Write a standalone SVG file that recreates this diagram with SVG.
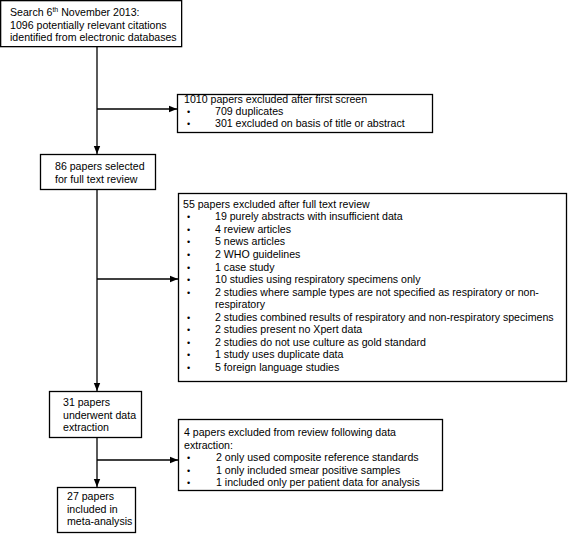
<svg xmlns="http://www.w3.org/2000/svg" width="568" height="534" viewBox="0 0 568 534">
<style>
.box{fill:#fff;stroke:#000;stroke-width:1.3}
.t{font-family:"Liberation Sans",Arial,sans-serif;font-size:10.6px;fill:#000}
.b{font-family:"Liberation Sans",Arial,sans-serif;font-size:9px;fill:#000}
.ln{fill:none;stroke:#000;stroke-width:1.3}
</style>
<defs>
<marker id="ah" viewBox="0 0 8 8" refX="8" refY="4" markerWidth="8" markerHeight="8" markerUnits="userSpaceOnUse" orient="auto">
<path d="M0,0.8 L8,4 L0,7.2 Z" fill="#000"/>
</marker>
</defs>
<g id="connectors">
<line class="ln" x1="97" y1="47" x2="97" y2="154" marker-end="url(#ah)"/>
<line class="ln" x1="97" y1="109" x2="177" y2="109" marker-end="url(#ah)"/>
<line class="ln" x1="97" y1="190" x2="97" y2="391" marker-end="url(#ah)"/>
<line class="ln" x1="97" y1="279" x2="178" y2="279" marker-end="url(#ah)"/>
<line class="ln" x1="97" y1="438" x2="97" y2="487" marker-end="url(#ah)"/>
<line class="ln" x1="97" y1="460" x2="178" y2="460" marker-end="url(#ah)"/>
</g>
<g id="search">
<rect class="box" x="0.65" y="0.65" width="181" height="46"/>
<text class="t" x="10" y="16">Search 6<tspan font-size="7" dy="-4">th</tspan><tspan dy="4"> November 2013:</tspan></text>
<text class="t" x="10" y="28.5">1096 potentially relevant citations</text>
<text class="t" x="10" y="41">identified from electronic databases</text>
</g>
<g id="excluded1">
<rect class="box" x="177.5" y="94.5" width="255" height="38"/>
<text class="t" x="184" y="103">1010 papers excluded after first screen</text>
<text class="b" x="187" y="115">•</text><text class="t" x="215" y="115">709 duplicates</text>
<text class="b" x="187" y="127">•</text><text class="t" x="215" y="127">301 excluded on basis of title or abstract</text>
</g>
<g id="selected">
<rect class="box" x="40.5" y="154.5" width="115" height="35"/>
<text class="t" x="55" y="170">86 papers selected</text>
<text class="t" x="55" y="183">for full text review</text>
</g>
<g id="excluded2">
<rect class="box" x="178.5" y="193.5" width="388" height="188"/>
<text class="t" x="183" y="207.8">55 papers excluded after full text review</text>
<g>
<text class="b" x="187" y="220.3">•</text><text class="t" x="215" y="220.3">19 purely abstracts with insufficient data</text>
<text class="b" x="187" y="232.9">•</text><text class="t" x="215" y="232.9">4 review articles</text>
<text class="b" x="187" y="245.4">•</text><text class="t" x="215" y="245.4">5 news articles</text>
<text class="b" x="187" y="258">•</text><text class="t" x="215" y="258">2 WHO guidelines</text>
<text class="b" x="187" y="270.5">•</text><text class="t" x="215" y="270.5">1 case study</text>
<text class="b" x="187" y="283">•</text><text class="t" x="215" y="283">10 studies using respiratory specimens only</text>
<text class="b" x="187" y="295.6">•</text><text class="t" x="215" y="295.6">2 studies where sample types are not specified as respiratory or non-</text>
<text class="t" x="215" y="308.1">respiratory</text>
<text class="b" x="187" y="320.7">•</text><text class="t" x="215" y="320.7">2 studies combined results of respiratory and non-respiratory specimens</text>
<text class="b" x="187" y="333.2">•</text><text class="t" x="215" y="333.2">2 studies present no Xpert data</text>
<text class="b" x="187" y="345.8">•</text><text class="t" x="215" y="345.8">2 studies do not use culture as gold standard</text>
<text class="b" x="187" y="358.3">•</text><text class="t" x="215" y="358.3">1 study uses duplicate data</text>
<text class="b" x="187" y="370.8">•</text><text class="t" x="215" y="370.8">5 foreign language studies</text>
</g>
</g>
<g id="extraction">
<rect class="box" x="49.5" y="391.5" width="92" height="46"/>
<text class="t" x="63" y="406">31 papers</text>
<text class="t" x="63" y="419">underwent data</text>
<text class="t" x="63" y="431">extraction</text>
</g>
<g id="excluded3">
<rect class="box" x="178.5" y="419.5" width="264" height="71"/>
<text class="t" x="184" y="436">4 papers excluded from review following data</text>
<text class="t" x="184" y="448.5">extraction:</text>
<text class="b" x="187" y="461">•</text><text class="t" x="216" y="461">2 only used composite reference standards</text>
<text class="b" x="187" y="473.5">•</text><text class="t" x="216" y="473.5">1 only included smear positive samples</text>
<text class="b" x="187" y="486">•</text><text class="t" x="216" y="486">1 included only per patient data for analysis</text>
</g>
<g id="included">
<rect class="box" x="57.5" y="487.5" width="78" height="45"/>
<text class="t" x="67" y="500">27 papers</text>
<text class="t" x="67" y="513">included in</text>
<text class="t" x="67" y="525">meta-analysis</text>
</g>
</svg>
